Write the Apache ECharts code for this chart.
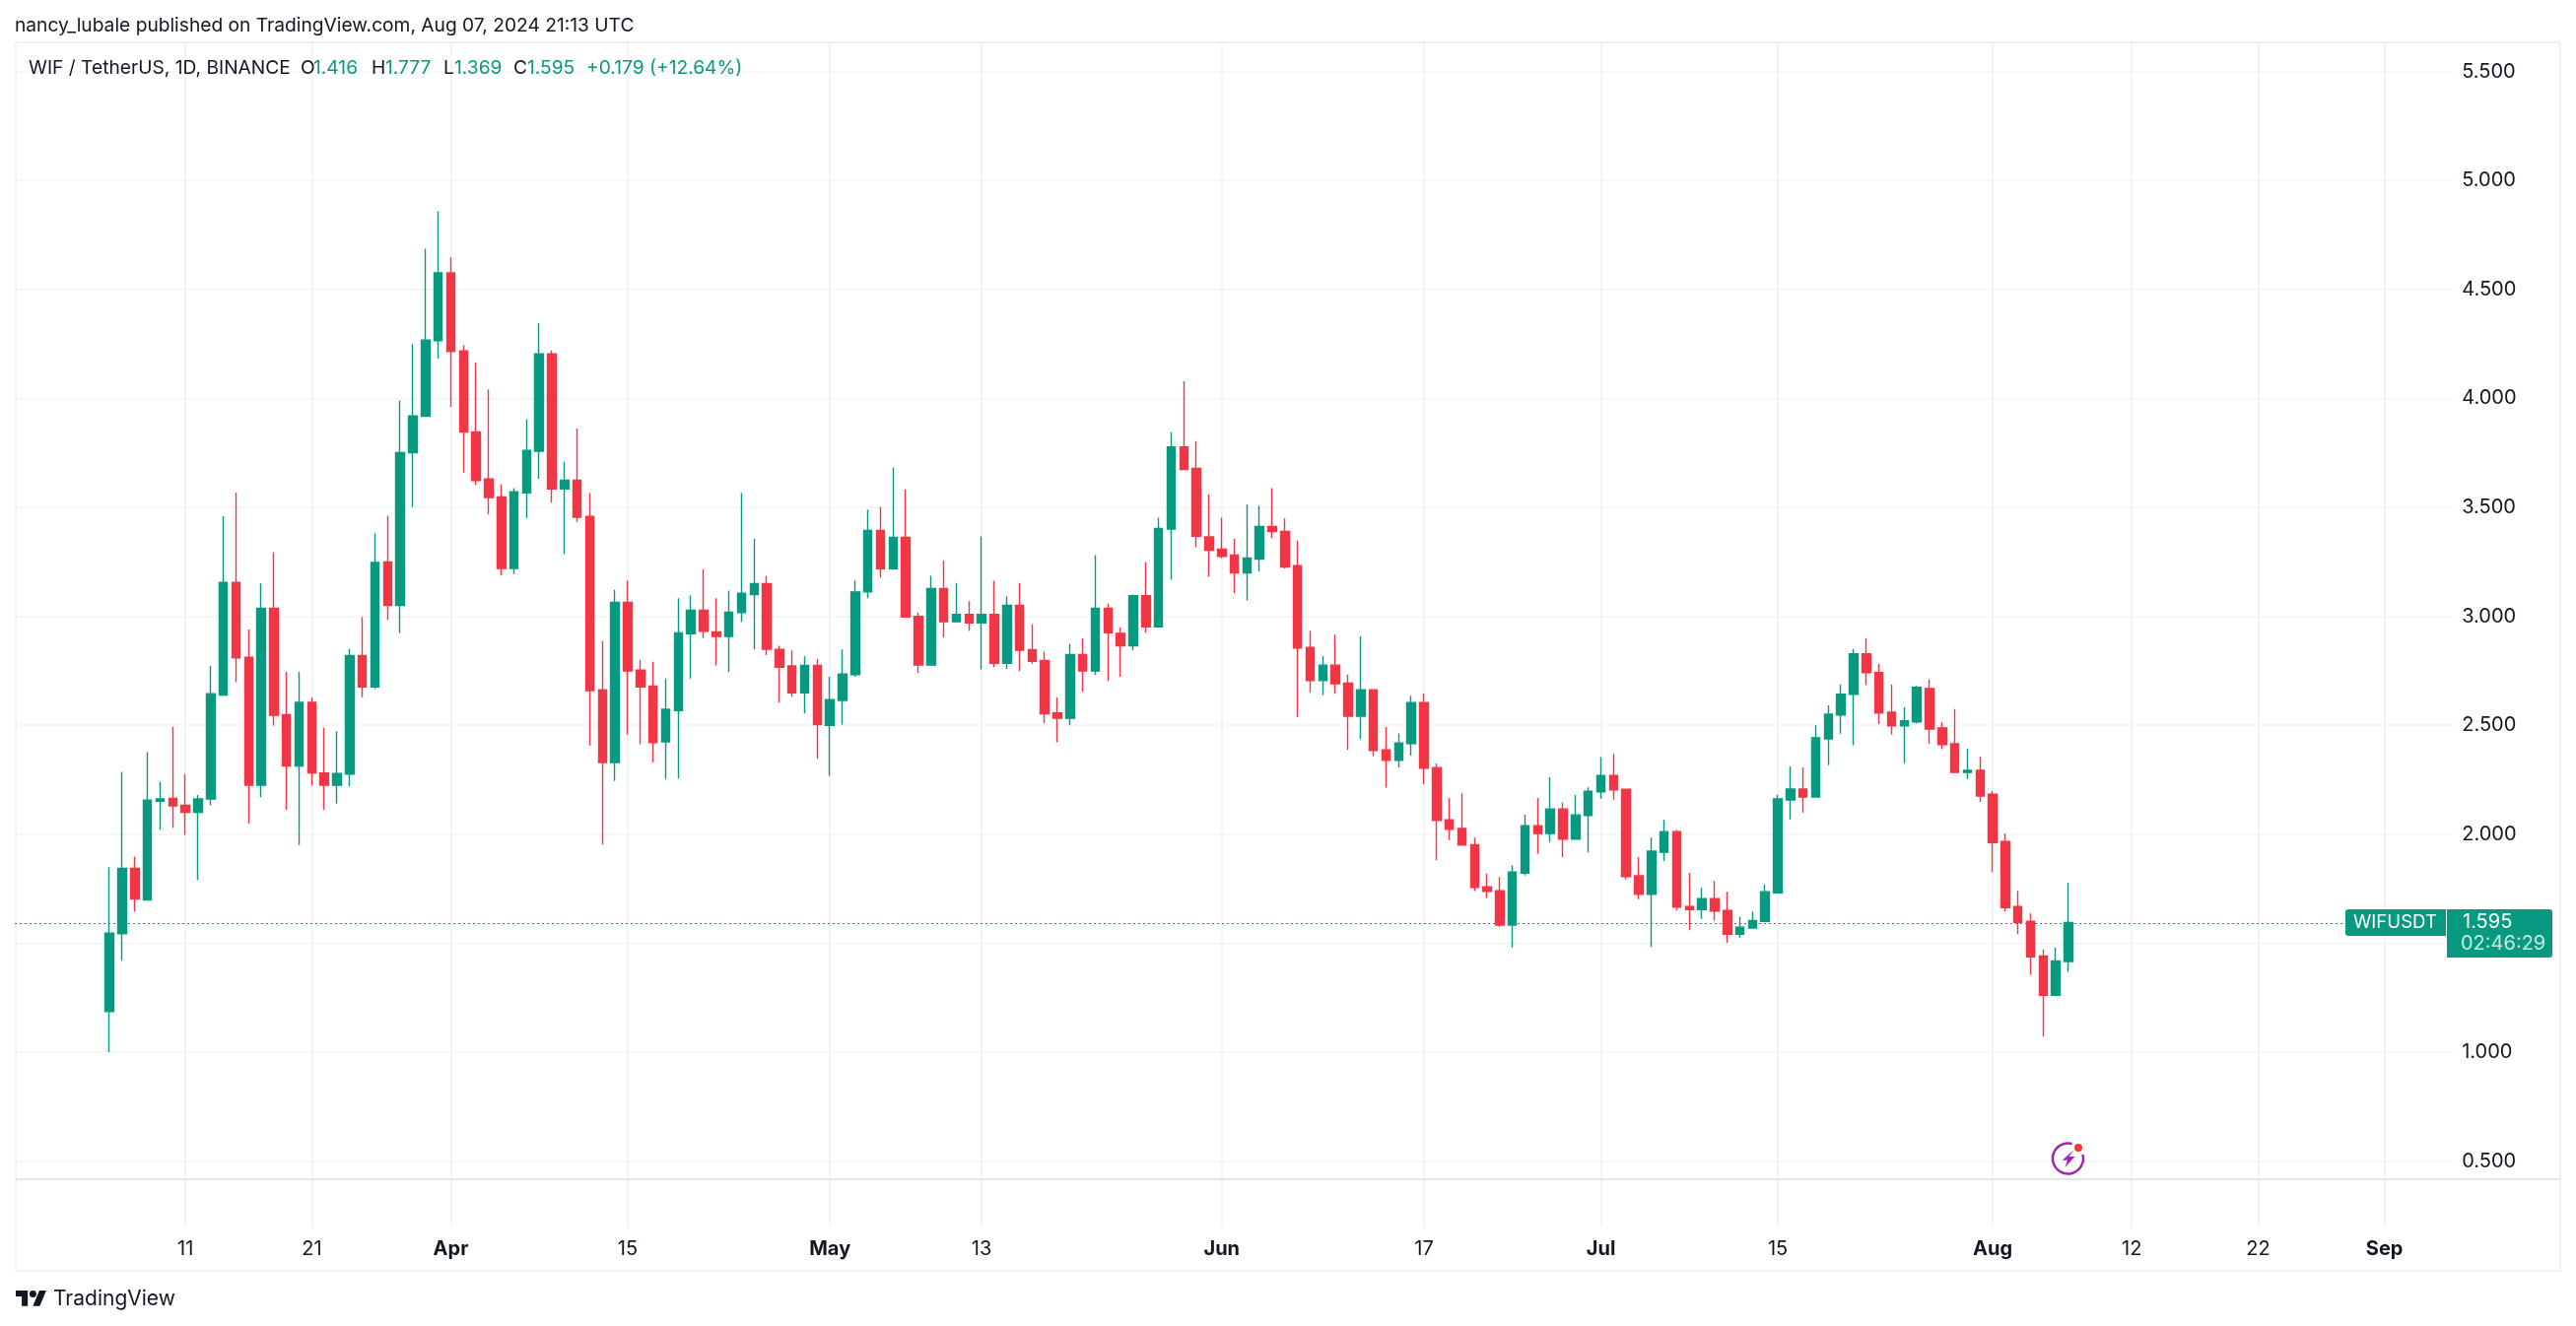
<!DOCTYPE html>
<html>
<head>
<meta charset="UTF-8">
<title>WIF / TetherUS</title>
<script src="https://cdn.jsdelivr.net/npm/echarts@6/dist/echarts.min.js"></script>
<style>
html,body{margin:0;padding:0;background:#fff;}
#chart{width:2614px;height:1346px;}
</style>
</head>
<body>
<div id="chart"></div>
<script type="text/javascript">
var firstDay='2024-02-27';
var dayCount=193;
var leadDays=7; // empty days before the first candle

var opens=[1.186,1.544,1.843,1.698,2.151,2.164,2.133,2.101,2.162,2.639,
3.156,2.812,2.225,3.037,2.549,2.313,2.605,2.281,2.225,2.276,
2.820,2.676,3.249,3.050,3.751,3.918,4.265,4.576,4.218,3.846,
3.630,3.548,3.220,3.567,3.758,4.204,3.585,3.625,3.458,2.663,
2.329,3.064,2.753,2.680,2.424,2.567,2.920,3.028,2.929,2.908,
3.017,3.100,3.150,2.848,2.772,2.649,2.775,2.500,2.614,2.732,
3.112,3.394,3.219,3.362,3.000,2.776,3.127,2.975,3.009,2.970,
3.009,2.785,3.050,2.847,2.797,2.557,2.532,2.824,2.749,3.037,
2.922,2.865,3.095,2.952,3.400,3.777,3.679,3.365,3.308,3.281,
3.199,3.263,3.412,3.390,3.232,2.857,2.705,2.776,2.693,2.542,
2.663,2.387,2.339,2.416,2.604,2.306,2.066,2.026,1.952,1.759,
1.741,1.583,1.822,2.039,2.003,2.116,1.977,2.086,2.194,2.270,
2.206,1.809,1.724,1.917,2.012,1.668,1.654,1.704,1.650,1.541,
1.570,1.600,1.731,2.157,2.207,2.171,2.438,2.547,2.642,2.828,
2.742,2.560,2.497,2.515,2.669,2.488,2.415,2.284,2.293,2.184,
1.967,1.668,1.600,1.441,1.261,1.416];
var closes=[1.546,1.843,1.703,2.156,2.162,2.130,2.101,2.162,2.645,3.156,
2.809,2.225,3.037,2.546,2.313,2.605,2.281,2.225,2.279,2.820,
2.676,3.247,3.050,3.751,3.920,4.268,4.576,4.215,3.846,3.623,
3.545,3.220,3.571,3.761,4.204,3.585,3.625,3.455,2.659,2.329,
3.064,2.749,2.676,2.420,2.573,2.924,3.028,2.931,2.908,3.019,
3.106,3.150,2.849,2.766,2.649,2.775,2.503,2.618,2.735,3.112,
3.394,3.219,3.362,2.997,2.776,3.127,2.975,3.009,2.970,3.009,
2.785,3.050,2.844,2.794,2.553,2.532,2.824,2.749,3.037,2.925,
2.865,3.095,2.952,3.403,3.777,3.674,3.368,3.303,3.275,3.199,
3.267,3.412,3.389,3.226,2.854,2.705,2.776,2.691,2.542,2.663,
2.384,2.339,2.419,2.604,2.303,2.063,2.023,1.950,1.756,1.738,
1.583,1.827,2.039,2.003,2.116,1.977,2.089,2.197,2.270,2.203,
1.806,1.724,1.922,2.012,1.665,1.654,1.704,1.647,1.541,1.573,
1.604,1.736,2.162,2.207,2.171,2.443,2.551,2.642,2.828,2.742,
2.556,2.497,2.520,2.674,2.483,2.411,2.284,2.293,2.175,1.962,
1.663,1.595,1.437,1.261,1.418,1.595];
var lows=[1.000,1.419,1.645,1.695,2.021,2.029,1.997,1.790,2.133,2.639,
2.698,2.048,2.170,2.499,2.111,1.950,2.223,2.111,2.141,2.220,
2.629,2.666,2.984,2.923,3.501,3.918,4.183,3.960,3.660,3.602,
3.467,3.187,3.194,3.450,3.631,3.522,3.285,3.433,2.407,1.953,
2.244,2.458,2.413,2.329,2.253,2.256,2.715,2.900,2.775,2.744,
2.974,2.849,2.822,2.604,2.631,2.554,2.346,2.268,2.503,2.723,
3.083,3.178,3.214,2.997,2.741,2.776,2.902,2.975,2.933,2.756,
2.767,2.759,2.749,2.782,2.509,2.422,2.500,2.654,2.731,2.703,
2.722,2.844,2.925,2.949,3.168,3.671,3.317,3.181,3.266,3.106,
3.073,3.205,3.359,3.220,2.538,2.651,2.639,2.645,2.387,2.437,
2.357,2.214,2.307,2.361,2.230,1.880,1.973,1.950,1.739,1.706,
1.575,1.480,1.810,1.910,1.964,1.895,1.977,1.917,2.163,2.158,
1.792,1.702,1.483,1.877,1.650,1.559,1.612,1.604,1.502,1.523,
1.570,1.600,1.728,2.068,2.100,2.171,2.317,2.461,2.408,2.684,
2.506,2.458,2.326,2.508,2.415,2.390,2.284,2.254,2.148,1.826,
1.647,1.541,1.355,1.071,1.261,1.369];
var highs=[1.849,2.286,1.897,2.377,2.241,2.493,2.276,2.180,2.772,3.459,
3.568,2.939,3.151,3.294,2.745,2.745,2.626,2.488,2.472,2.851,
2.997,3.382,3.462,3.989,4.249,4.687,4.859,4.647,4.244,4.164,
4.042,3.606,3.588,3.905,4.344,4.220,3.709,3.862,3.566,2.888,
3.121,3.164,2.801,2.792,2.715,3.083,3.095,3.216,3.083,3.118,
3.566,3.355,3.185,2.865,2.844,2.818,2.804,2.723,2.848,3.164,
3.490,3.502,3.683,3.582,3.017,3.186,3.257,3.153,3.070,3.367,
3.163,3.092,3.153,2.964,2.838,2.628,2.874,2.899,3.281,3.058,
2.948,3.100,3.249,3.453,3.846,4.079,3.804,3.560,3.453,3.356,
3.514,3.507,3.588,3.449,3.348,2.934,2.818,2.916,2.733,2.908,
2.663,2.492,2.462,2.636,2.645,2.325,2.166,2.188,1.985,1.819,
1.804,1.857,2.090,2.166,2.261,2.146,2.181,2.215,2.354,2.369,
2.206,1.895,1.985,2.066,2.020,1.823,1.754,1.785,1.736,1.622,
1.645,1.770,2.181,2.311,2.307,2.500,2.591,2.687,2.850,2.900,
2.782,2.687,2.583,2.681,2.710,2.514,2.574,2.393,2.356,2.198,
2.003,1.740,1.636,1.471,1.479,1.777];

var priceTicks=[0.5,1,1.5,2,2.5,3,3.5,4,4.5,5,5.5];
var dateTicks={'2024-03-11':'11','2024-03-21':'21','2024-04-01':'Apr','2024-04-15':'15',
	'2024-05-01':'May','2024-05-13':'13','2024-06-01':'Jun','2024-06-17':'17',
	'2024-07-01':'Jul','2024-07-15':'15','2024-08-01':'Aug','2024-08-12':'12',
	'2024-08-22':'22','2024-09-01':'Sep'};
var lastPrice=1.595;

var GREEN='#089981',RED='#F23645',INK='#131722',FONT='Inter';

var categories=[];
for(var i=0;i<dayCount;i++){
	var d=new Date(Date.parse(firstDay)+i*86400000);
	categories.push(d.toISOString().slice(0,10));
}
var candles=categories.map(function(c,i){
	var k=i-leadDays;
	if(k<0||k>=opens.length){return ['-','-','-','-'];}
	return [opens[k],closes[k],lows[k],highs[k]];
});

function isTick(index,value){return dateTicks[value]!==undefined;}

function label(x,y,text,color,size,weight,align){
	return {type:'text',x:x,y:y,silent:true,z:20,style:{
		text:text,fill:color,font:(weight||'normal')+' '+size+'px '+FONT,
		textVerticalAlign:'middle',textAlign:align||'left'}};
}
function line(x1,y1,x2,y2,color){
	return {type:'line',silent:true,z:1,shape:{x1:x1,y1:y1,x2:x2,y2:y2},
		style:{stroke:color,lineWidth:2}};
}
// logo parts, 36x18 box scaled down from the corner
function logoPoly(pts){
	return {type:'polygon',silent:true,z:20,x:16,y:1306.5,scaleX:0.87,scaleY:0.87,
		shape:{points:pts},style:{fill:INK}};
}

var mychart=echarts.init(document.getElementById('chart'),null,{renderer:'canvas'});
var option={
	backgroundColor:'#fff',
	animation:false,
	grid:{left:15,top:43,width:2475.2,height:1203,containLabel:false},
	xAxis:{
		type:'category',
		data:categories,
		boundaryGap:true,
		axisLine:{show:false},
		axisTick:{show:false},
		splitLine:{show:true,interval:isTick,alignWithLabel:true,lineStyle:{color:'#f0f1f3',width:1.5}},
		axisLabel:{
			interval:isTick,
			hideOverlap:false,
			margin:12,
			fontFamily:FONT,
			fontSize:20,
			color:INK,
			formatter:function(v){
				var t=dateTicks[v];
				if(!t){return '';}
				return isNaN(t)?'{m|'+t+'}':t;
			},
			rich:{m:{fontFamily:FONT,fontSize:20,fontWeight:'bold',color:INK}}
		}
	},
	yAxis:{
		type:'value',
		position:'right',
		min:0.1953,
		max:5.634,
		axisLine:{show:false},
		axisTick:{show:false,customValues:priceTicks},
		splitLine:{show:true,lineStyle:{color:'#f4f4f6',width:1.5}},
		axisLabel:{
			customValues:priceTicks,
			margin:8,
			fontFamily:FONT,
			fontSize:20,
			color:INK,
			formatter:function(v){return v.toFixed(3);}
		}
	},
	series:[{
		type:'candlestick',
		data:candles,
		barWidth:9,
		itemStyle:{color:GREEN,color0:RED,borderColor:GREEN,borderColor0:RED,borderWidth:1.4},
		markLine:{
			silent:true,
			symbol:'none',
			label:{show:false},
			lineStyle:{color:GREEN,type:[2,3],width:1},
			data:[{yAxis:lastPrice}]
		}
	}]
};
mychart.setOption(option);

var py=mychart.convertToPixel({yAxisIndex:0},lastPrice);
var graphics=[
	line(16,43,2598,43,'#f0f1f3'),
	line(16,43,16,1290,'#f0f1f3'),
	line(2598,43,2598,1290,'#f0f1f3'),
	line(16,1290,2598,1290,'#f0f1f3'),
	line(16,1197,2598,1197,'#e4e5e8'),
	label(15,26,'nancy_lubale published on TradingView.com, Aug 07, 2024 21:13 UTC',INK,19.2),
	label(29,69,'WIF / TetherUS, 1D, BINANCE',INK,19.2),
	label(305,69,'O',INK,19.2),label(318,69,'1.416',GREEN,19.2),
	label(377,69,'H',INK,19.2),label(391,69,'1.777',GREEN,19.2),
	label(450,69,'L',INK,19.2),label(461,69,'1.369',GREEN,19.2),
	label(521,69,'C',INK,19.2),label(535,69,'1.595',GREEN,19.2),
	label(595,69,'+0.179 (+12.64%)',GREEN,19.2),
	// last price tags
	{type:'rect',silent:true,z:10,shape:{x:2380,y:py-13.5,width:102,height:27,r:[3,0,0,3]},style:{fill:GREEN}},
	{type:'rect',silent:true,z:10,shape:{x:2483,y:py-13.5,width:107,height:49,r:[0,3,3,0]},style:{fill:GREEN}},
	label(2388,py,'WIFUSDT','#fff',18.6),
	label(2499,py,'1.595','#fff',20),
	label(2497,py+22,'02:46:29','#c4ebe3',20),
	// logo
	logoPoly([[14,22],[7,22],[7,11],[0,11],[0,4],[14,4]]),
	logoPoly([[28,22],[20,22],[27.5,4],[35.5,4]]),
	{type:'circle',silent:true,z:20,x:16,y:1306.5,scaleX:0.87,scaleY:0.87,shape:{cx:20,cy:8,r:4},style:{fill:INK}},
	label(54,1319,'TradingView',INK,21),
	// snapshot mark
	{type:'arc',silent:true,z:20,shape:{cx:2098.5,cy:1176,r:15.5,startAngle:-15*Math.PI/180,endAngle:285*Math.PI/180},
		style:{stroke:'#9c27b0',lineWidth:2.5,fill:null}},
	{type:'polygon',silent:true,z:20,shape:{points:[[2104.5,1167],[2092.5,1178],[2098,1177.5],[2095.5,1185],[2105.5,1174],[2099.5,1174]]},
		style:{fill:'#9c27b0'}},
	{type:'circle',silent:true,z:21,shape:{cx:2109,cy:1165,r:4},style:{fill:'#f0383c'}}
];
mychart.setOption({graphic:graphics});
</script>
</body>
</html>
